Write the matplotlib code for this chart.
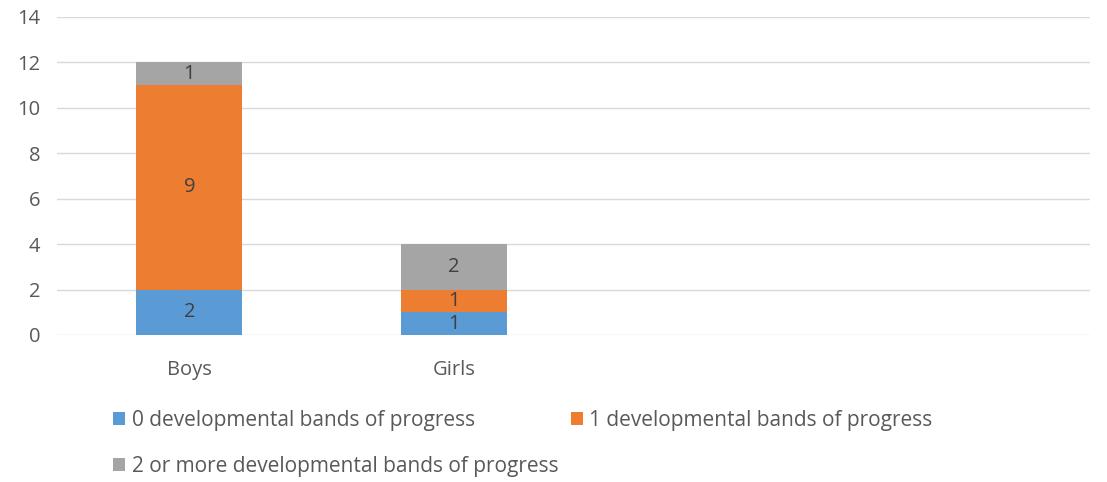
import numpy as np
import matplotlib.pyplot as plt

# -----------------------------
# Data
# -----------------------------
categories = ["Boys", "Girls", "", ""]
series_names = ["0 developmental bands of progress",
                "1 developmental bands of progress",
                "2 or more developmental bands of progress"]
band0 = [2, 1, 0, 0]
band1 = [9, 1, 0, 0]
band2 = [1, 2, 0, 0]
colors = ["#5B9BD5", "#ED7D31", "#A5A5A5"]

plt.rcParams['font.family'] = ['Open Sans', 'DejaVu Sans']

fig = plt.figure(figsize=(11.07, 4.82), dpi=100)
ax = fig.add_axes([0.0515, 0.305, 0.933, 0.66])

x = np.arange(len(categories))
bottom = np.zeros(len(categories))
handles = []
for vals, name, col in zip([band0, band1, band2], series_names, colors):
    vals = np.array(vals, dtype=float)
    bars = ax.bar(x, vals, width=0.4, bottom=bottom, color=col, label=name, zorder=3)
    handles.append(bars)
    for xi, v, b in zip(x, vals, bottom):
        if v > 0:
            ax.text(xi, b + v / 2, f"{int(v)}", ha='center', va='center',
                    fontsize=14.5, color='#404040', zorder=4)
    bottom += vals

ax.set_ylim(0, 14)
ax.set_yticks(range(0, 15, 2))
ax.set_xlim(-0.5, 3.405)
ax.set_xticks(x)
ax.set_xticklabels(categories)
ax.grid(axis='y', color='#D9D9D9', linewidth=1, zorder=0)
for s in ax.spines.values():
    s.set_visible(False)
ax.tick_params(length=0, labelsize=14.5, colors='#595959')
ax.tick_params(axis='x', pad=18)
ax.tick_params(axis='y', pad=12)

# legend order: row 1 -> series 0, 1 ; row 2 -> series 2
order = [0, 2, 1]
fig.legend([handles[i] for i in order], [series_names[i] for i in order],
           loc='lower left', bbox_to_anchor=(0.085, -0.028), ncol=2, frameon=False,
           fontsize=15, labelcolor='#595959', handlelength=0.6, handleheight=0.6,
           handletextpad=0.3, columnspacing=0.6, labelspacing=1.2)

fig.savefig("out.png", dpi=100)
